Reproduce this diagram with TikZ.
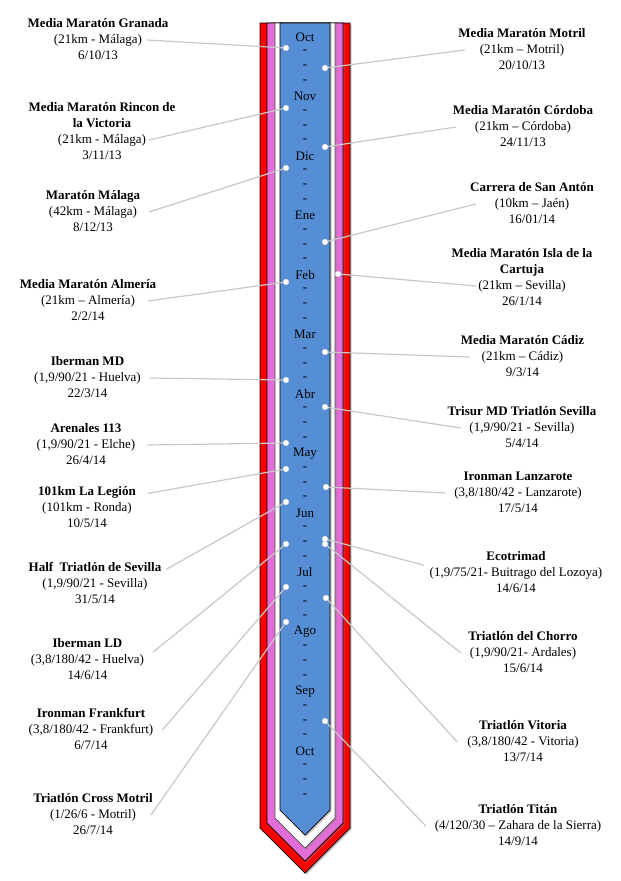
\documentclass[tikz,border=0pt]{standalone}
\usepackage{fontspec}
\setmainfont{Liberation Serif}
\usetikzlibrary{shadows}
\definecolor{stripBlue}{RGB}{85,142,213}
\definecolor{stripPink}{RGB}{228,108,214}
\definecolor{stripRed}{RGB}{255,0,0}

\begin{document}
\fontsize{13}{15.7}\selectfont
\begin{tikzpicture}[x=1pt, y=-1pt]
  % Node styles
  \tikzstyle{band} = [draw=black, line width=0.7pt, drop shadow={shadow xshift=1.5pt, shadow yshift=-1.5pt, opacity=0.45}]
  \tikzstyle{month} = [inner sep=0pt]
  \tikzstyle{dot} = [circle, fill=white, draw=black!25, line width=0.3pt, minimum size=6pt, inner sep=0pt]
  \tikzstyle{detail} = [inner sep=0pt, outer xsep=9pt, outer ysep=0pt, text height=11.2pt, text depth=4.5pt]
  \tikzstyle{title} = [font=\bfseries, align=center, inner sep=0pt, outer ysep=0pt, text depth=4.5pt]
  \tikzstyle{date} = [inner sep=0pt, outer sep=0pt, text height=11.2pt]
  \tikzstyle{link} = [draw=black!22, line width=1.2pt]

  \useasboundingbox (0,0) rectangle (621,881);

  % Ribbon
  \path[band, fill=stripRed] (260,23) -- (350,23) -- (350,828) -- (305,873) -- (260,828) -- cycle;
  \path[band, fill=stripPink] (267,23) -- (343,23) -- (343,823) -- (305,861) -- (267,823) -- cycle;
  \path[band, fill=white, draw=black!70] (275,23) -- (335,23) -- (335,818) -- (305,848) -- (275,818) -- cycle;
  \path[band, fill=stripBlue] (280,23) -- (330,23) -- (330,810) -- (305,835) -- (280,810) -- cycle;

  % Months
  \foreach \mon [count=\i from 0] in {Oct,Nov,Dic,Ene,Feb,Mar,Abr,May,Jun,Jul,Ago,Sep,Oct}{
    \node[month] (mon\i) at (305, 37+\i*59.5) {\mon};
    \foreach \d in {1,2,3}
      \node[month] (mon\i-\d) at (305, 37+\i*59.5+\d*14.875) {-};
  }

  % Races, left
  \node[detail, outer xsep=5pt, label={[title]above:Media Maratón Granada}, label={[date]below:6/10/13}] (granada) at (98,40) {(21km - Málaga)};
  \node[detail, outer xsep=3pt, label={[title]above:{Media Maratón Rincon de\\la Victoria}}, label={[date]below:3/11/13}] (rincon) at (102,140) {(21km - Málaga)};
  \node[detail, outer xsep=12pt, label={[title]above:Maratón Málaga}, label={[date]below:8/12/13}] (malaga) at (93,212) {(42km - Málaga)};
  \node[detail, outer xsep=13pt, label={[title]above:Media Maratón Almería}, label={[date]below:2/2/14}] (almeria) at (88,301) {(21km – Almería)};
  \node[detail, label={[title]above:Iberman MD}, label={[date]below:22/3/14}] (ibermanMD) at (87.5,378) {(1,9/90/21 - Huelva)};
  \node[detail, outer xsep=12pt, label={[title]above:Arenales 113}, label={[date]below:26/4/14}] (arenales) at (86,445) {(1,9/90/21 - Elche)};
  \node[detail, label={[title, name=legionTitle, outer xsep=12pt]above:101km La Legión}, label={[date]below:10/5/14}] (legion) at (87,508) {(101km - Ronda)};
  \node[detail, label={[title, name=halfTitle, outer xsep=5pt]above:Half\ \ Triatlón de Sevilla}, label={[date]below:31/5/14}] (halfSevilla) at (95,584) {(1,9/90/21 - Sevilla)};
  \node[detail, label={[title]above:Iberman LD}, label={[date]below:14/6/14}] (ibermanLD) at (87.5,660) {(3,8/180/42 - Huelva)};
  \node[detail, label={[title]above:Ironman Frankfurt}, label={[date]below:6/7/14}] (frankfurt) at (91,730) {(3,8/180/42 - Frankfurt)};
  \node[detail, outer xsep=15pt, label={[title]above:Triatlón Cross Motril}, label={[date]below:26/7/14}] (crossMotril) at (93,815) {(1/26/6 - Motril)};

  % Races, right
  \node[detail, outer xsep=15pt, label={[title]above:Media Maratón Motril}, label={[date]below:20/10/13}] (motril) at (522,50) {(21km – Motril)};
  \node[detail, outer xsep=19pt, label={[title]above:Media Maratón Córdoba}, label={[date]below:24/11/13}] (cordoba) at (523,127) {(21km – Córdoba)};
  \node[detail, outer xsep=19pt, label={[title]above:Carrera de San Antón}, label={[date]below:16/01/14}] (sanAnton) at (532,204) {(10km – Jaén)};
  \node[detail, outer xsep=2pt, label={[title]above:{Media Maratón Isla de la\\Cartuja}}, label={[date]below:26/1/14}] (cartuja) at (522,286) {(21km – Sevilla)};
  \node[detail, outer xsep=12pt, label={[title]above:Media Maratón Cádiz}, label={[date]below:9/3/14}] (cadiz) at (522.5,357) {(21km – Cádiz)};
  \node[detail, label={[title]above:Trisur MD Triatlón Sevilla}, label={[date]below:5/4/14}] (trisur) at (522,428) {(1,9/90/21 - Sevilla)};
  \node[detail, label={[title]above:Ironman Lanzarote}, label={[date]below:17/5/14}] (lanzarote) at (518,493) {(3,8/180/42 - Lanzarote)};
  \node[detail, outer xsep=6pt, label={[title]above:Ecotrimad}, label={[date]below:14/6/14}] (ecotrimad) at (516,573) {(1,9/75/21- Buitrago del Lozoya)};
  \node[detail, label={[title]above:Triatlón del Chorro}, label={[date]below:15/6/14}] (chorro) at (523,653) {(1,9/90/21- Ardales)};
  \node[detail, outer xsep=10pt, label={[title]above:Triatlón Vitoria}, label={[date]below:13/7/14}] (vitoria) at (523,742) {(3,8/180/42 - Vitoria)};
  \node[detail, label={[title]above:Triatlón Titán}, label={[date]below:14/9/14}] (titan) at (518,826) {(4/120/30 – Zahara de la Sierra)};

  % Dots
  \node[dot] (granadaDot) at (286,48) {};
  \node[dot] (rinconDot) at (286,108) {};
  \node[dot] (malagaDot) at (286,168) {};
  \node[dot] (almeriaDot) at (286,282) {};
  \node[dot] (ibermanMDDot) at (286,380) {};
  \node[dot] (arenalesDot) at (286,443) {};
  \node[dot] (legionDot) at (286,469) {};
  \node[dot] (halfSevillaDot) at (286,502) {};
  \node[dot] (ibermanLDDot) at (286,544) {};
  \node[dot] (frankfurtDot) at (286,587) {};
  \node[dot] (crossMotrilDot) at (286,622) {};
  \node[dot] (motrilDot) at (325,68) {};
  \node[dot] (cordobaDot) at (325,147) {};
  \node[dot] (sanAntonDot) at (325,242) {};
  \node[dot] (cartujaDot) at (338,274) {};
  \node[dot] (cadizDot) at (325,352) {};
  \node[dot] (trisurDot) at (325,407) {};
  \node[dot] (lanzaroteDot) at (326,487) {};
  \node[dot] (ecotrimadDot) at (325,539) {};
  \node[dot] (chorroDot) at (325,544) {};
  \node[dot] (vitoriaDot) at (326,598) {};
  \node[dot] (titanDot) at (325,721) {};

  % Links
  \draw[link] (granada.east) -- (granadaDot);
  \draw[link] (rincon.east) -- (rinconDot);
  \draw[link] (malaga.east) -- (malagaDot);
  \draw[link] (almeria.east) -- (almeriaDot);
  \draw[link] (ibermanMD.east) -- (ibermanMDDot);
  \draw[link] (arenales.east) -- (arenalesDot);
  \draw[link] (legionTitle.east) -- (legionDot);
  \draw[link] (halfTitle.east) -- (halfSevillaDot);
  \draw[link] (ibermanLD.north east) -- (ibermanLDDot);
  \draw[link] (frankfurt.east) -- (frankfurtDot);
  \draw[link] (crossMotril.east) -- (crossMotrilDot);
  \draw[link] (motril.west) -- (motrilDot);
  \draw[link] (cordoba.west) -- (cordobaDot);
  \draw[link] (sanAnton.west) -- (sanAntonDot);
  \draw[link] (cartuja.west) -- (cartujaDot);
  \draw[link] (cadiz.west) -- (cadizDot);
  \draw[link] (trisur.west) -- (trisurDot);
  \draw[link] (lanzarote.west) -- (lanzaroteDot);
  \draw[link] (ecotrimad.north west) -- (ecotrimadDot);
  \draw[link] (chorro.west) -- (chorroDot);
  \draw[link] (vitoria.west) -- (vitoriaDot);
  \draw[link] (titan.west) -- (titanDot);
\end{tikzpicture}
\end{document}
